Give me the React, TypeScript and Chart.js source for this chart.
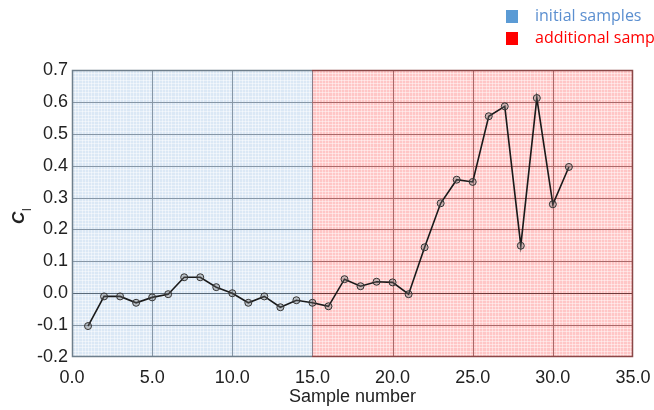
import React, { useEffect, useRef } from "react";
import { Chart, registerables } from "chart.js";

Chart.register(...registerables);

const sampleNumbers = [1, 2, 3, 4, 5, 6, 7, 8, 9, 10, 11, 12, 13, 14, 15, 16, 17, 18, 19, 20, 21, 22, 23, 24, 25, 26, 27, 28, 29, 30, 31];
const clValues = [-0.103, -0.01, -0.01, -0.03, -0.013, -0.003, 0.05, 0.05, 0.019, 0.0, -0.03, -0.01, -0.044, -0.022, -0.03, -0.041, 0.044, 0.022, 0.036, 0.034, -0.003, 0.144, 0.282, 0.356, 0.349, 0.555, 0.586, 0.149, 0.612, 0.279, 0.396];

const xTicksMin = 0;
const xTicksMax = 35;
const xStep = 5;
const yTicksMin = -0.2;
const yTicksMax = 0.7;
const yStep = 0.1;
const splitAt = 15;

const legendLabels = ["initial samples", "additional samples"];
const legendColors = ["#5b9bd5", "#ff0000"];
const legendTextColors = ["#5b8fd0", "#ff0000"];

const FONT = "'Liberation Sans', Arial, sans-serif";

const fmt = (v: any) => {
  const n = Number(v);
  return (Math.abs(n) < 1e-9 ? 0 : n).toFixed(1);
};

const bgPlugin = {
  id: "bgPlugin",
  beforeDatasetsDraw(chart: any) {
    const { ctx, chartArea } = chart;
    const { left, right, top, bottom } = chartArea;
    const xs = chart.scales.x;
    const ys = chart.scales.y;
    const xm = Math.round(xs.getPixelForValue(splitAt));
    ctx.save();
    ctx.fillStyle = "#dbe8f5";
    ctx.fillRect(left, top, xm - left, bottom - top);
    ctx.fillStyle = "#ffc6c6";
    ctx.fillRect(xm, top, right - xm, bottom - top);
    ctx.lineWidth = 1;
    const minorX = 0.2;
    const minorY = 0.01;
    for (let v = xTicksMin; v <= xTicksMax + 1e-9; v += minorX) {
      const px = Math.round(xs.getPixelForValue(v)) + 0.5;
      ctx.strokeStyle = px < xm ? "rgba(255,255,255,0.45)" : "rgba(255,255,255,0.4)";
      ctx.beginPath();
      ctx.moveTo(px, top);
      ctx.lineTo(px, bottom);
      ctx.stroke();
    }
    for (let v = yTicksMin; v <= yTicksMax + 1e-9; v += minorY) {
      const py = Math.round(ys.getPixelForValue(v)) + 0.5;
      ctx.strokeStyle = "rgba(255,255,255,0.45)";
      ctx.beginPath();
      ctx.moveTo(left, py);
      ctx.lineTo(right, py);
      ctx.stroke();
    }
    const blueGrid = "#8797a6";
    const redGrid = "#a86a6a";
    for (let v = xTicksMin + xStep; v < xTicksMax; v += xStep) {
      const px = Math.round(xs.getPixelForValue(v)) + 0.5;
      ctx.strokeStyle = v < splitAt ? blueGrid : v === splitAt ? "#8a7f8a" : redGrid;
      ctx.beginPath();
      ctx.moveTo(px, top);
      ctx.lineTo(px, bottom);
      ctx.stroke();
    }
    for (let i = 1; i < Math.round((yTicksMax - yTicksMin) / yStep); i++) {
      const v = yTicksMin + i * yStep;
      const py = Math.round(ys.getPixelForValue(v)) + 0.5;
      const isZero = Math.abs(v) < 1e-9;
      ctx.strokeStyle = isZero ? "#5a6a78" : blueGrid;
      ctx.beginPath();
      ctx.moveTo(left, py);
      ctx.lineTo(xm, py);
      ctx.stroke();
      ctx.strokeStyle = isZero ? "#6e3a3a" : redGrid;
      ctx.beginPath();
      ctx.moveTo(xm, py);
      ctx.lineTo(right, py);
      ctx.stroke();
    }
    ctx.lineWidth = 1.5;
    ctx.strokeStyle = "#6f7f8c";
    ctx.beginPath();
    ctx.moveTo(xm, top + 0.5);
    ctx.lineTo(left + 0.5, top + 0.5);
    ctx.lineTo(left + 0.5, bottom - 0.5);
    ctx.lineTo(xm, bottom - 0.5);
    ctx.stroke();
    ctx.strokeStyle = "#8a4848";
    ctx.beginPath();
    ctx.moveTo(xm, top + 0.5);
    ctx.lineTo(right - 0.5, top + 0.5);
    ctx.lineTo(right - 0.5, bottom - 0.5);
    ctx.lineTo(xm, bottom - 0.5);
    ctx.stroke();
    ctx.restore();
  },
  afterDraw(chart: any) {
    const { ctx, chartArea } = chart;
    ctx.save();
    ctx.fillStyle = "#222";
    ctx.font = `18px ${FONT}`;
    ctx.textAlign = "center";
    ctx.textBaseline = "middle";
    ctx.fillText("Sample number", (chartArea.left + chartArea.right) / 2, 397);
    ctx.translate(24, 217);
    ctx.rotate(-Math.PI / 2);
    ctx.textAlign = "left";
    ctx.textBaseline = "alphabetic";
    ctx.font = `italic bold 17px ${FONT}`;
    ctx.fillText("C", -7, 0);
    ctx.font = `12px ${FONT}`;
    ctx.fillText("l", 6, 7);
    ctx.restore();
    ctx.save();
    ctx.font = `16px 'Open Sans', ${FONT}`;
    ctx.textBaseline = "middle";
    ctx.textAlign = "left";
    const ys0 = [16, 38];
    for (let i = 0; i < legendLabels.length; i++) {
      ctx.fillStyle = legendColors[i];
      ctx.fillRect(506, ys0[i] - 6, 12, 13);
      ctx.fillStyle = legendTextColors[i];
      ctx.fillText(legendLabels[i], 535, ys0[i]);
    }
    ctx.restore();
  },
};

export default function App() {
  const ref = useRef<HTMLCanvasElement | null>(null);
  useEffect(() => {
    if (!ref.current) return;
    const chart = new Chart(ref.current, {
      type: "line",
      data: {
        datasets: [
          {
            data: sampleNumbers.map((x, i) => ({ x, y: clValues[i] })),
            borderColor: "#1a1a1a",
            borderWidth: 1.6,
            pointRadius: 3.5,
            pointBorderWidth: 1,
            pointBorderColor: "#333",
            pointBackgroundColor: "rgba(110,110,110,0.35)",
            tension: 0,
            fill: false,
          },
        ],
      },
      options: {
        responsive: false,
        animation: false,
        devicePixelRatio: 1,
        layout: { padding: { top: 70, right: 21, bottom: 0, left: 0 } },
        plugins: { legend: { display: false }, tooltip: { enabled: false } },
        scales: {
          x: {
            type: "linear",
            min: xTicksMin,
            max: xTicksMax,
            grid: { display: false, drawTicks: false },
            border: { display: false },
            ticks: {
              stepSize: xStep,
              color: "#222",
              font: { size: 18, family: FONT },
              padding: 10,
              maxRotation: 0,
              callback: fmt,
            },
            afterFit: (s: any) => {
              s.height = 53;
              s.paddingLeft = 0;
              s.paddingRight = 0;
            },
          },
          y: {
            type: "linear",
            min: yTicksMin,
            max: yTicksMax,
            grid: { display: false, drawTicks: false },
            border: { display: false },
            ticks: {
              stepSize: yStep,
              color: "#222",
              font: { size: 18, family: FONT },
              padding: 4,
              callback: fmt,
            },
            afterFit: (s: any) => {
              s.width = 72;
              s.paddingTop = 0;
              s.paddingBottom = 0;
            },
          },
        },
      },
      plugins: [bgPlugin],
    });
    return () => chart.destroy();
  }, []);
  return (
    <div style={{ position: "absolute", left: 0, top: 0, width: 654, height: 410, background: "#fff", overflow: "hidden" }}>
      <canvas ref={ref} width={654} height={410} style={{ display: "block" }} />
    </div>
  );
}
